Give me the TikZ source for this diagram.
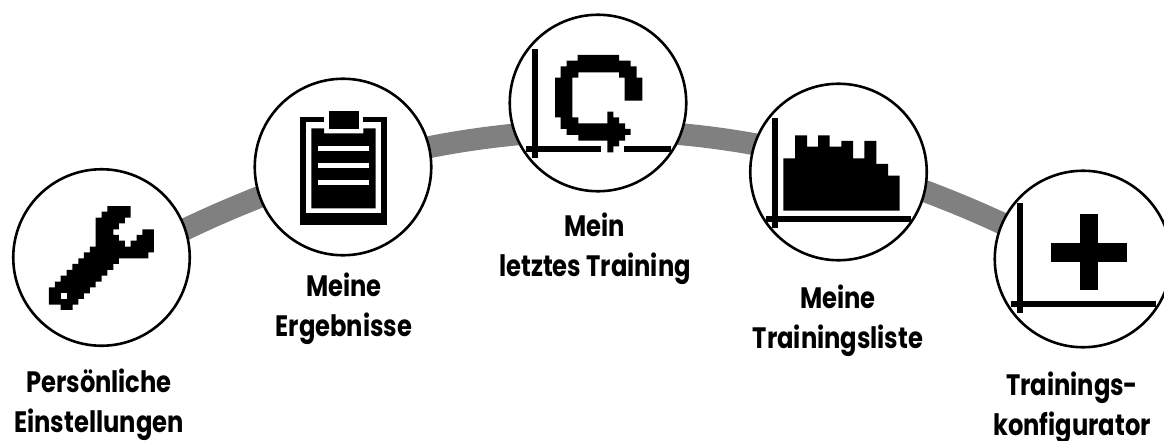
\documentclass[tikz,border=0pt]{standalone}
\usepackage{fontspec}
\usetikzlibrary{backgrounds}
\newfontfamily\capfont{Poppins}[FakeStretch=0.82,UprightFont=* Bold]
\definecolor{band}{gray}{0.5}
\tikzset{
  station/.style={circle,draw=black,line width=2.6pt,fill=white,minimum size=176.5pt,inner sep=0pt},
  caption/.style={align=center,font=\capfont\fontsize{29.5}{40}\selectfont,inner sep=0pt},
  route/.style={draw=band,line width=22pt,line cap=butt},
  ink/.style={fill=black,draw=none},
  paper/.style={fill=white,draw=none}
}
\begin{document}
\begin{tikzpicture}[x=1pt,y=-1pt]
\useasboundingbox (0,0) rectangle (1164,441);
\clip (0,0) rectangle (1164,441);
\coordinate (ra) at (140,252);
\coordinate (rb) at (1040,241.8);
\node[station] (c1) at (101.5,257.5) {};
\node[station] (c2) at (343,167) {};
\node[station] (c3) at (598,103) {};
\node[station] (c4) at (838.5,172) {};
\node[station] (c5) at (1083,259) {};
\begin{scope}[on background layer]
\draw[route] (c1.center) -- (ra) .. controls (440,93.3) and (740,90) .. (rb) -- (c5.center);
\end{scope}
% wrench
\begin{scope}[shift={(0,150)},x=0.33333pt,y=-0.33333pt]
\fill[ink] (322,168) -- (392,168) -- (392,203) -- (375,203) -- (375,220) -- (357,220) -- (357,238) -- (340,238) -- (340,255) -- (357,255) -- (357,272) -- (375,272) -- (375,290) -- (392,290) -- (392,272) -- (410,272) -- (410,255) -- (427,255) -- (427,238) -- (462,238) -- (462,307) -- (445,307) -- (445,325) -- (357,325) -- (357,342) -- (340,342) -- (340,360) -- (322,360) -- (322,377) -- (305,377) -- (305,395) -- (287,395) -- (287,412) -- (270,412) -- (270,430) -- (252,430) -- (252,447) -- (235,447) -- (235,464) -- (218,464) -- (218,480) -- (182,480) -- (182,464) -- (147,464) -- (147,412) -- (165,412) -- (165,395) -- (182,395) -- (182,377) -- (200,377) -- (200,360) -- (217,360) -- (217,342) -- (235,342) -- (235,325) -- (252,325) -- (252,307) -- (270,307) -- (270,290) -- (287,290) -- (287,203) -- (305,203) -- (305,185) -- (322,185) -- cycle;
\fill[paper] (182,429) rectangle (200,446);
\end{scope}
% clipboard
\begin{scope}[shift={(250,60)},x=0.33333pt,y=-0.33333pt]
\fill[ink] (150,170) rectangle (411,495);
\fill[paper] (222,150) rectangle (340,220);
\fill[paper] (169,187) rectangle (392,460);
\fill[ink] (184,205) -- (222,205) -- (222,220) -- (340,220) -- (340,205) -- (377,205) -- (377,445) -- (184,445) -- cycle;
\fill[ink] (236,153) rectangle (326,206);
\fill[paper] (204,257) rectangle (357,272);
\fill[paper] (204,309) rectangle (357,324);
\fill[paper] (204,361) rectangle (357,376);
\end{scope}
% replay chart
\begin{scope}[shift={(500,0)},x=0.33333pt,y=-0.33333pt]
\fill[ink] (95,148) rectangle (115,473);
\fill[ink] (78,439) rectangle (304,457);
\fill[ink] (373,439) rectangle (513,457);
\fill[ink] (233,165) -- (357,165) -- (357,182) -- (392,182) -- (392,199) -- (410,199) -- (410,233) -- (427,233) -- (427,302) -- (374,302) -- (374,233) -- (357,233) -- (357,217) -- (235,217) -- (235,233) -- (217,233) -- (217,352) -- (235,352) -- (235,370) -- (322,370) -- (322,335) -- (340,335) -- (340,352) -- (357,352) -- (357,370) -- (375,370) -- (375,387) -- (392,387) -- (392,405) -- (375,405) -- (375,422) -- (357,422) -- (357,439) -- (340,439) -- (340,457) -- (322,457) -- (322,422) -- (235,422) -- (235,405) -- (200,405) -- (200,387) -- (182,387) -- (182,352) -- (165,352) -- (165,233) -- (182,233) -- (182,199) -- (200,199) -- (200,182) -- (233,182) -- cycle;
\end{scope}
% bars chart
\begin{scope}[shift={(745,75)},x=0.33333pt,y=-0.33333pt]
\fill[ink] (80,130) rectangle (100,458);
\fill[ink] (63,424) rectangle (497,441);
\fill[ink] (115,407) -- (115,250) -- (150,250) -- (150,181) -- (186,181) -- (186,215) -- (219,215) -- (219,181) -- (254,181) -- (254,215) -- (289,215) -- (289,198) -- (324,198) -- (324,250) -- (358,250) -- (358,198) -- (394,198) -- (394,267) -- (429,267) -- (429,302) -- (464,302) -- (464,407) -- cycle;
\end{scope}
% plus chart
\begin{scope}[shift={(984,170)},x=0.33333pt,y=-0.33333pt]
\fill[ink] (98,99) rectangle (118,428);
\fill[ink] (81,394) rectangle (516,411);
\fill[ink] (289,133) rectangle (343,360);
\fill[ink] (202,220) rectangle (430,275);
\end{scope}
\node[caption] (t1) at (99,405) {Persönliche\\Einstellungen};
\node[caption] (t2) at (344,309) {Meine\\Ergebnisse};
\node[caption] (t3) at (595,249) {Mein\\letztes Training};
\node[caption] (t4) at (838,321) {Meine\\Trainingsliste};
\node[caption] (t5) at (1072,408) {Trainings-\\konfigurator};
\end{tikzpicture}
\end{document}
